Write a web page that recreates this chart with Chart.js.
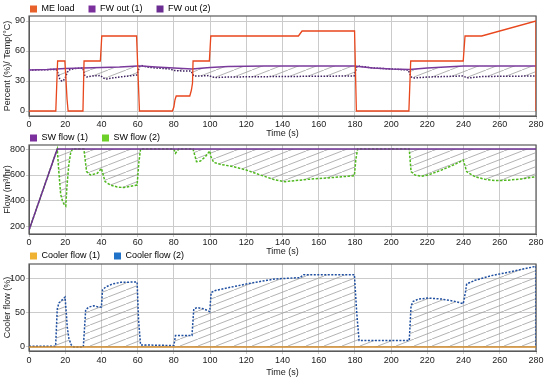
<!DOCTYPE html>
<html>
<head>
<meta charset="utf-8">
<script src="https://cdn.jsdelivr.net/npm/chart.js@4.4.1/dist/chart.umd.min.js"></script>
<style>
  html, body { margin: 0; padding: 0; background: #fff; }
  body { width: 550px; height: 381px; position: relative; overflow: hidden; }
  .panel { position: absolute; left: 0; width: 550px; }
</style>
</head>
<body>
<div class="panel" style="top:0;height:139px"><canvas id="chart1"></canvas></div>
<div class="panel" style="top:130px;height:127px"><canvas id="chart2"></canvas></div>
<div class="panel" style="top:248px;height:130px"><canvas id="chart3"></canvas></div>
<script>
// tick labels
const timeTicks = [0, 20, 40, 60, 80, 100, 120, 140, 160, 180, 200, 220, 240, 260, 280];
const tempTicks = [0, 30, 60, 90];
const flowTicks = [200, 400, 600, 800];
const coolerTicks = [0, 50, 100];

// panel 1 - ME load and FW outlet temp
const meLoadT = [0, 14.8, 15.8, 19.8, 20.4, 21, 21.6, 29.8, 30.4, 39.4, 40.2, 59.4, 61, 79.2, 80, 80.6, 81.3, 88.8, 89.7, 90.3, 90.6, 99.6, 100.4, 148.8, 150.8, 179.8, 180.8, 209.8, 210.8, 239.8, 240.8, 250, 280, 280];
const meLoad  = [0, 0, 50, 50, 32, 12, 0, 0, 50, 50, 75, 75, 0, 0, 4, 11, 15, 15, 21, 28, 50, 50, 75, 75, 80, 80, 0, 0, 50, 50, 75, 75, 90, 0];

const fwOut1T = [0, 10, 15, 20, 30, 40, 50, 60, 62, 70, 80, 90, 100, 110, 130, 180, 182, 190, 200, 210, 220, 230, 240, 280];
const fwOut1  = [41, 41.5, 42, 42.5, 43, 43.5, 44, 45, 45, 44, 43, 42, 43.5, 44.5, 45, 45, 44.5, 43, 42, 41.5, 43, 44, 45, 45];

const fwOut2T = [0, 15, 16, 17, 18, 19, 20, 21, 22, 25, 29.8, 30.6, 32, 35, 39.5, 41, 43, 46, 50, 55, 59.5, 61, 62, 65, 70, 78, 80, 85, 89.5, 91, 95, 99.5, 101, 103, 110, 140, 179.5, 181, 182, 190, 200, 209.5, 211, 213, 220, 230, 239.5, 241, 243, 250, 280];
const fwOut2  = [41, 41.5, 38, 32, 30, 30.5, 33, 38, 41, 42.5, 43, 36, 34, 35, 35.5, 33, 32, 33, 34, 35, 36, 44, 45.5, 44, 43, 42, 40.5, 40, 40, 35, 35, 35.5, 34, 33.5, 34, 34.5, 35, 44, 45, 43, 42, 41, 34, 33, 34, 34.5, 35, 34, 33, 34.5, 35];

// panel 2 - SW flow
const swFlow1T = [0, 15.6, 280];
const swFlow1  = [175, 800, 800];

const swFlow2T = [0, 15.6, 16.5, 17.5, 18.5, 19.5, 20.3, 21, 22, 23, 24, 30.3, 31.8, 34, 37.7, 40, 42, 45, 48.7, 52.4, 56, 59.7, 60.7, 61.6, 80, 80.9, 82.7, 90.6, 92.5, 94.7, 97.4, 99.8, 100.5, 102, 105.7, 113, 120, 127.8, 136, 141.5, 154, 169, 179.7, 180.5, 181.5, 210, 211, 213.2, 216.8, 220.5, 227.9, 235.2, 239.8, 240.6, 241.7, 246.3, 251.8, 257.3, 264.6, 272, 280];
const swFlow2  = [175, 800, 620, 450, 400, 370, 360, 520, 680, 770, 800, 800, 626, 600, 613, 651, 549, 523, 508, 503, 513, 523, 700, 800, 800, 767, 800, 800, 703, 708, 741, 785, 740, 697, 682, 664, 638, 600, 562, 549, 567, 582, 595, 720, 800, 800, 626, 600, 590, 600, 639, 682, 715, 680, 626, 587, 567, 557, 560, 570, 587];

// panel 3 - cooler flow
const coolerFlow1T = [0, 280];
const coolerFlow1  = [0, 0];

const coolerFlow2T = [0, 14.7, 15.6, 16.5, 18.4, 19.9, 20.6, 21.1, 22, 23.3, 24.8, 30, 31.3, 33, 35.8, 38.6, 40, 40.6, 42.3, 46, 50.6, 59.7, 60.5, 61.6, 80, 80.9, 90, 91, 92.8, 96.5, 99.8, 100.6, 102.9, 109.4, 120, 131.4, 136, 149.7, 151.6, 179.7, 181, 182.3, 210, 211, 212.2, 215, 220.5, 227.9, 235.2, 239.8, 241, 241.7, 246.3, 255.4, 264.6, 280, 280];
const coolerFlow2  = [1, 1, 55.7, 64.5, 69.5, 73.4, 50, 30, 12.8, 3, 0, 0, 54.7, 58.6, 60.6, 58.6, 58.6, 84, 88, 92.6, 95, 95.6, 40, 3, 2, 16.7, 16.7, 55.7, 58, 56, 52, 80, 83, 86.7, 92.6, 98, 100, 102, 106.3, 106.3, 50, 9.3, 9.3, 60.6, 67, 70.4, 71.9, 70.4, 67, 63.5, 80, 92.6, 98, 104.9, 109.8, 118.6, 0];

Chart.defaults.font.family = "'Liberation Sans', Arial, sans-serif";
Chart.defaults.font.size = 9;
Chart.defaults.color = "#222";

function pts(t, v) {
  return t.map((x, i) => ({ x: x, y: v[i] }));
}

// diagonal hatch used between the paired curves
function makeHatch() {
  const c = document.createElement("canvas");
  c.width = 18;
  c.height = 7;
  const g = c.getContext("2d");
  g.strokeStyle = "#9a9a9a";
  g.lineWidth = 0.75;
  g.beginPath();
  g.moveTo(-2, 7 + 14 / 18);
  g.lineTo(20, -14 / 18);
  g.stroke();
  return g.createPattern(c, "repeat");
}
const hatch = makeHatch();

// put the legend where the original has it
const legendPlace = {
  id: "legendPlace",
  afterLayout(chart, args, opts) {
    const lg = chart.legend;
    if (!lg) return;
    const pad = lg.options.labels.padding;
    lg.left = chart.chartArea.left + 1 - pad;
    lg.top = opts.centerY - pad - 4.5;
  },
};

// dark frame round the plot area
const plotFrame = {
  id: "plotFrame",
  beforeDatasetsDraw(chart) {
    const { ctx, chartArea: a } = chart;
    ctx.save();
    ctx.strokeStyle = "#5a5a5a";
    ctx.lineWidth = 1.2;
    ctx.strokeRect(a.left, a.top, a.right - a.left, a.bottom - a.top);
    ctx.restore();
  },
};

function makeChart(id, datasets, legendColors, cfg) {
  return new Chart(document.getElementById(id), {
    type: "line",
    data: { datasets: datasets },
    plugins: [legendPlace, plotFrame],
    options: {
      responsive: true,
      maintainAspectRatio: false,
      animation: false,
      parsing: false,
      layout: { padding: { left: 0, right: 14, top: 0, bottom: 0 } },
      elements: { point: { radius: 0 }, line: { tension: 0 } },
      plugins: {
        legendPlace: { centerY: cfg.legendY },
        tooltip: { enabled: false },
        legend: {
          align: "start",
          maxHeight: cfg.legendHeight,
          labels: {
            boxWidth: 7,
            boxHeight: 7,
            padding: 14,
            font: { size: 9 },
            color: "#1a1a1a",
            generateLabels: (chart) =>
              chart.data.datasets.map((ds, i) => ({
                text: ds.label,
                fillStyle: legendColors[i],
                strokeStyle: legendColors[i],
                lineWidth: 0,
                hidden: false,
                datasetIndex: i,
              })),
          },
        },
      },
      scales: {
        x: {
          type: "linear",
          min: 0,
          max: 280,
          afterBuildTicks: (s) => {
            s.ticks = timeTicks.map((v) => ({ value: v }));
          },
          afterFit: (s) => {
            s.height = cfg.xAxisHeight;
          },
          grid: { color: "#cbcbcb", tickLength: 3 },
          border: { color: "#5a5a5a" },
          ticks: { maxRotation: 0, autoSkip: false, padding: cfg.tickPad, font: { size: 9 } },
          title: { display: true, text: "Time (s)", padding: 0, font: { size: 9 } },
        },
        y: {
          type: "linear",
          min: cfg.yMin,
          max: cfg.yMax,
          afterBuildTicks: (s) => {
            s.ticks = cfg.yTicks.map((v) => ({ value: v }));
          },
          afterFit: (s) => {
            s.width = 29;
          },
          grid: { color: "#cbcbcb", tickLength: 3 },
          border: { color: "#5a5a5a" },
          ticks: { padding: 1, font: { size: 9 } },
          title: { display: true, text: cfg.yTitle, padding: { top: 2, bottom: 0 }, font: { size: 9 } },
        },
      },
    },
  });
}

makeChart(
  "chart1",
  [
    { label: "ME load", data: pts(meLoadT, meLoad), borderColor: "#e8461c", borderWidth: 1.3, fill: false },
    { label: "FW out (1)", data: pts(fwOut1T, fwOut1), borderColor: "#7a3a9c", borderWidth: 1.3, fill: false },
    { label: "FW out (2)", data: pts(fwOut2T, fwOut2), borderColor: "#3e2160", borderWidth: 1.5, borderDash: [1.5, 1.5], fill: "-1", backgroundColor: hatch },
  ],
  ["#e8602a", "#7a2f9c", "#6c2d92"],
  { legendY: 9, legendHeight: 16, xAxisHeight: 23, tickPad: 0, yMin: -5, yMax: 95, yTicks: tempTicks, yTitle: "Percent (%)/ Temp(°C)" }
);

makeChart(
  "chart2",
  [
    { label: "SW flow (1)", data: pts(swFlow1T, swFlow1), borderColor: "#6e2f92", borderWidth: 1.5, fill: false },
    { label: "SW flow (2)", data: pts(swFlow2T, swFlow2), borderColor: "#4fb81e", borderWidth: 1.5, borderDash: [2.5, 1.5], fill: "-1", backgroundColor: hatch },
  ],
  ["#7a2f9c", "#6dd028"],
  { legendY: 8, legendHeight: 15, xAxisHeight: 23, tickPad: 0, yMin: 146, yMax: 831, yTicks: flowTicks, yTitle: "Flow (m³/hr)" }
);

makeChart(
  "chart3",
  [
    { label: "Cooler flow (1)", data: pts(coolerFlow1T, coolerFlow1), borderColor: "#d08a28", borderWidth: 1.5, fill: false },
    { label: "Cooler flow (2)", data: pts(coolerFlow2T, coolerFlow2), borderColor: "#1f4fa0", borderWidth: 1.5, borderDash: [2, 1.5], fill: "-1", backgroundColor: hatch },
  ],
  ["#f0b232", "#1f72c8"],
  { legendY: 8, legendHeight: 16, xAxisHeight: 27, tickPad: 1, yMin: -6, yMax: 122, yTicks: coolerTicks, yTitle: "Cooler flow (%)" }
);
</script>
</body>
</html>
